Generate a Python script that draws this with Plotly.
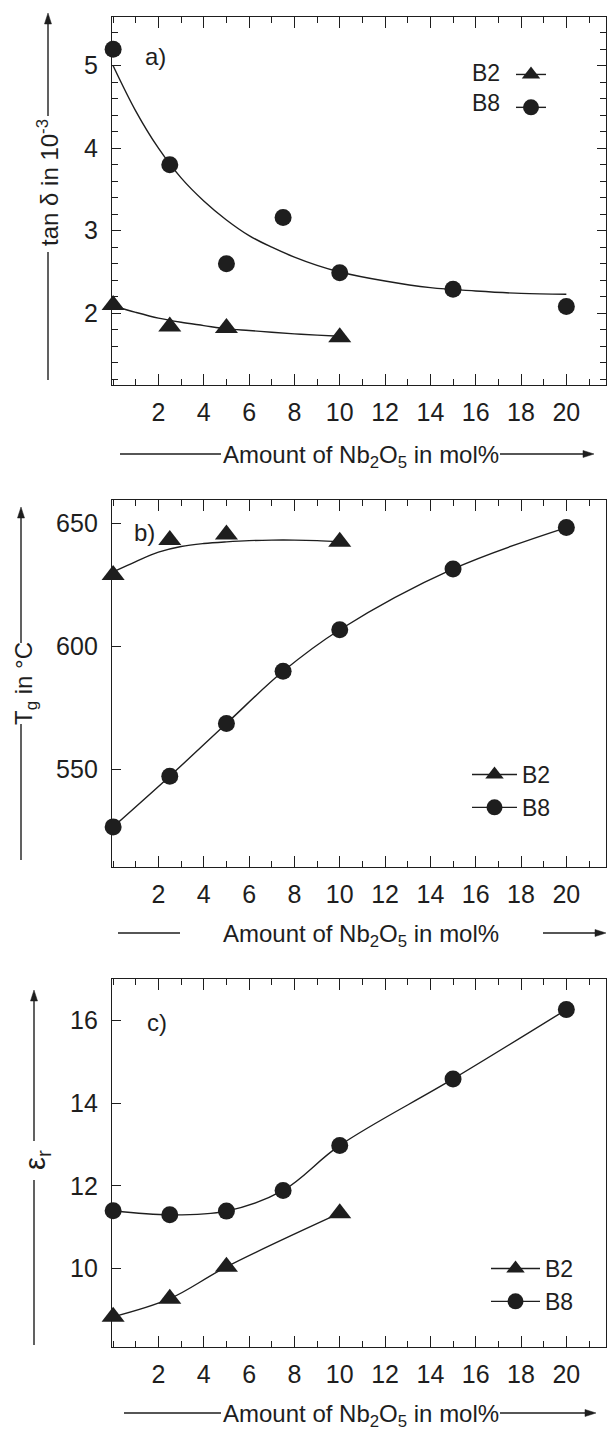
import plotly.graph_objects as go

W, H = 608, 1430
INK = '#1e1e1e'
FONT = 'Liberation Sans, Arial, sans-serif'

# ---------------- data ----------------
x_b2 = [0, 2.5, 5, 10]
x_b8 = [0, 2.5, 5, 7.5, 10, 15, 20]

# a) tan delta in 1e-3
tan_b2 = [2.10, 1.84, 1.82, 1.71]
tan_b8 = [5.20, 3.80, 2.60, 3.16, 2.49, 2.29, 2.08]
tan_fit_x_b2 = [0, 1, 2, 3, 4, 5, 6, 7, 8, 9, 10]
tan_fit_b2 = [2.09, 2.01, 1.94, 1.89, 1.85, 1.81, 1.79, 1.77, 1.75, 1.735, 1.72]
tan_fit_x_b8 = [0, 1, 2, 3, 4, 5, 6, 7, 8, 9, 10, 12, 14, 16, 18, 20]
tan_fit_b8 = [5.00, 4.45, 4.00, 3.64, 3.36, 3.13, 2.94, 2.80, 2.68, 2.58, 2.50,
              2.39, 2.31, 2.27, 2.24, 2.23]

# b) Tg in degC
tg_b2 = [629.0, 643.2, 645.5, 642.5]
tg_b8 = [526.7, 547.3, 568.7, 589.9, 606.8, 631.5, 648.3]
tg_fit_x_b2 = [0, 1, 2, 3, 4, 5, 6, 7, 8, 9, 10]
tg_fit_b2 = [630.3, 634.5, 638.3, 640.6, 641.8, 642.5, 643.0, 643.2, 643.2, 643.0, 642.6]

# c) epsilon_r
er_b2 = [8.83, 9.27, 10.04, 11.34]
er_b8 = [11.40, 11.30, 11.39, 11.89, 12.98, 14.59, 16.27]

x_tickvals = [2, 4, 6, 8, 10, 12, 14, 16, 18, 20]
tan_ticks = [2, 3, 4, 5]
tg_ticks = [550, 600, 650]
er_ticks = [10, 12, 14, 16]
series_names = ['B2', 'B8']

# ---------------- layout helpers (pixel -> paper) ----------------
def px(p):
    return p / W


def py(p):
    return 1 - p / H


X_DOM = [px(112), px(606)]
X_RANGE = [-0.05, 21.75]
DOM_A = [py(385), py(17)]
DOM_B = [py(867), py(500)]
DOM_C = [py(1347), py(979)]

LW = 1.4
MS_C = 17
MS_T = 20

fig = go.Figure()


def msize(sym):
    return MS_T if sym == 'triangle-up' else MS_C


def line_tr(x, y, xa, ya):
    return go.Scatter(x=x, y=y, mode='lines', xaxis=xa, yaxis=ya, showlegend=False,
                      line=dict(color=INK, width=LW, shape='spline', smoothing=1.0),
                      hoverinfo='skip', cliponaxis=False)


def mark_tr(x, y, xa, ya, sym, name):
    return go.Scatter(x=x, y=y, mode='markers', xaxis=xa, yaxis=ya, showlegend=False, name=name,
                      marker=dict(symbol=sym, size=msize(sym), color=INK, line=dict(width=0)),
                      cliponaxis=False)


def proxy_tr(name, sym, legend, xa, ya):
    return go.Scatter(x=[None], y=[None], mode='lines+markers', xaxis=xa, yaxis=ya,
                      name=name, legend=legend, showlegend=True,
                      line=dict(color=INK, width=LW),
                      marker=dict(symbol=sym, size=msize(sym), color=INK))


# panel a
fig.add_trace(line_tr(tan_fit_x_b2, tan_fit_b2, 'x', 'y'))
fig.add_trace(line_tr(tan_fit_x_b8, tan_fit_b8, 'x', 'y'))
fig.add_trace(mark_tr(x_b2, tan_b2, 'x', 'y', 'triangle-up', 'B2'))
fig.add_trace(mark_tr(x_b8, tan_b8, 'x', 'y', 'circle', 'B8'))
fig.add_trace(proxy_tr('', 'triangle-up', 'legend', 'x', 'y'))
fig.add_trace(proxy_tr(' ', 'circle', 'legend', 'x', 'y'))

# panel b
fig.add_trace(line_tr(tg_fit_x_b2, tg_fit_b2, 'x2', 'y2'))
fig.add_trace(mark_tr(x_b2, tg_b2, 'x2', 'y2', 'triangle-up', 'B2'))
fig.add_trace(proxy_tr(series_names[0], 'triangle-up', 'legend2', 'x2', 'y2'))
fig.add_trace(go.Scatter(x=x_b8, y=tg_b8, mode='lines+markers', xaxis='x2', yaxis='y2',
                         name=series_names[1], legend='legend2', showlegend=True,
                         line=dict(color=INK, width=LW, shape='spline', smoothing=1.0),
                         marker=dict(symbol='circle', size=MS_C, color=INK), cliponaxis=False))

# panel c
fig.add_trace(go.Scatter(x=x_b2, y=er_b2, mode='lines+markers', xaxis='x3', yaxis='y3',
                         name=series_names[0], legend='legend3', showlegend=True,
                         line=dict(color=INK, width=LW, shape='spline', smoothing=1.0),
                         marker=dict(symbol='triangle-up', size=MS_T, color=INK), cliponaxis=False))
fig.add_trace(go.Scatter(x=x_b8, y=er_b8, mode='lines+markers', xaxis='x3', yaxis='y3',
                         name=series_names[1], legend='legend3', showlegend=True,
                         line=dict(color=INK, width=LW, shape='spline', smoothing=1.0),
                         marker=dict(symbol='circle', size=MS_C, color=INK), cliponaxis=False))

TICKFONT = dict(family=FONT, size=25, color=INK)


def xaxis_cfg(anchor):
    return dict(domain=X_DOM, range=X_RANGE, anchor=anchor, showgrid=False, zeroline=False,
                showline=True, linecolor=INK, linewidth=LW, mirror='ticks',
                tickmode='array', tickvals=x_tickvals,
                ticks='inside', ticklen=11, tickwidth=LW, tickcolor=INK,
                minor=dict(dtick=1, tick0=0, ticks='inside', ticklen=6, tickwidth=LW,
                           tickcolor=INK, showgrid=False),
                tickfont=TICKFONT, ticklabelstandoff=5, fixedrange=True)


def yaxis_left(anchor, dom, rng, tickvals, minor_dtick=None, mirror='ticks'):
    cfg = dict(domain=dom, range=rng, anchor=anchor, showgrid=False, zeroline=False,
               showline=True, linecolor=INK, linewidth=LW, mirror=mirror,
               tickmode='array', tickvals=tickvals, ticks='inside', ticklen=9,
               tickwidth=LW, tickcolor=INK, tickfont=TICKFONT, ticklabelstandoff=8,
               fixedrange=True)
    if minor_dtick:
        cfg['minor'] = dict(dtick=minor_dtick, tick0=0, ticks='inside', ticklen=6,
                            tickwidth=LW, tickcolor=INK, showgrid=False)
    return cfg


def yaxis_right(anchor, over, rng, dtick):
    return dict(overlaying=over, anchor=anchor, side='right', range=rng, showgrid=False,
                zeroline=False, showline=False, showticklabels=False, tickmode='linear',
                tick0=0, dtick=dtick, ticks='inside', ticklen=7, tickwidth=LW, tickcolor=INK,
                fixedrange=True)


RANGE_A = [1.13, 5.59]
RANGE_B = [510.4, 659.5]
RANGE_C = [8.10, 17.01]

LEG = dict(font=dict(family=FONT, size=23, color=INK), bgcolor='rgba(0,0,0,0)',
           borderwidth=0, xanchor='left', yanchor='top', tracegroupgap=0)

fig.update_layout(
    width=W, height=H, margin=dict(l=0, r=0, t=0, b=0),
    paper_bgcolor='white', plot_bgcolor='white',
    font=dict(family=FONT, color=INK, size=24),
    xaxis=xaxis_cfg('y'),
    xaxis2=xaxis_cfg('y2'),
    xaxis3=xaxis_cfg('y3'),
    yaxis=yaxis_left('x', DOM_A, RANGE_A, tan_ticks, minor_dtick=0.2),
    yaxis2=yaxis_left('x2', DOM_B, RANGE_B, tg_ticks, mirror=True),
    yaxis3=yaxis_left('x3', DOM_C, RANGE_C, er_ticks, mirror=True),
    yaxis4=yaxis_right('x2', 'y2', RANGE_B, 10),
    yaxis5=yaxis_right('x3', 'y3', RANGE_C, 1),
    legend=dict(LEG, x=px(511), y=py(53), itemwidth=30),
    legend2=dict(LEG, x=px(467), y=py(753), itemwidth=45),
    legend3=dict(LEG, x=px(486), y=py(1247), itemwidth=49),
    showlegend=True,
)

ann = []
shapes = []


def text(x, y, s, size=24, xanchor='center', angle=0):
    ann.append(dict(x=px(x), y=py(y), xref='paper', yref='paper', text=s, showarrow=False,
                    xanchor=xanchor, yanchor='middle', textangle=angle,
                    font=dict(family=FONT, size=size, color=INK)))


def seg(x0, y0, x1, y1):
    shapes.append(dict(type='line', xref='paper', yref='paper', x0=px(x0), y0=py(y0),
                       x1=px(x1), y1=py(y1), line=dict(color=INK, width=LW)))


def tri(pts):
    d = 'M ' + ' L '.join('%.5f,%.5f' % (px(a), py(b)) for a, b in pts) + ' Z'
    shapes.append(dict(type='path', xref='paper', yref='paper', path=d,
                       fillcolor=INK, line=dict(color=INK, width=0.5)))


def arrow_right(x_tail, x_tip, y):
    seg(x_tail, y, x_tip - 8, y)
    tri([(x_tip, y), (x_tip - 11, y - 3.5), (x_tip - 11, y + 3.5)])


def arrow_up(x, y_tail, y_tip):
    seg(x, y_tail, x, y_tip + 8)
    tri([(x, y_tip), (x - 3.5, y_tip + 11), (x + 3.5, y_tip + 11)])


# panel labels
text(143, 57, 'a)', xanchor='left')
text(132, 532, 'b)', xanchor='left')
text(145, 1022, 'c)', xanchor='left')

# legend text for panel a (text left of symbol)
text(502, 73, series_names[0], size=23, xanchor='right')
text(502, 103, series_names[1], size=23, xanchor='right')

XT = 'Amount of Nb<sub>2</sub>O<sub>5</sub> in mol%'
# x titles
text(361, 456, XT)
seg(120, 454, 221, 454)
arrow_right(500, 594, 454)

text(361, 935, XT)
seg(118, 933, 180, 933)
arrow_right(543, 606, 933)

text(361, 1415, XT)
seg(124, 1413, 221, 1413)
arrow_right(500, 596, 1413)

# y titles
text(48, 183, 'tan δ in 10<sup>-3</sup>', angle=-90)
arrow_up(48, 116, 13)
seg(48, 252, 48, 380)

text(25, 684, 'T<sub>g</sub> in °C', angle=-90)
arrow_up(21, 643, 507)
seg(21, 724, 21, 860)

text(37, 1160, 'ε<sub>r</sub>', size=29, angle=-90)
arrow_up(34, 1141, 990)
seg(34, 1180, 34, 1345)

fig.update_layout(annotations=ann, shapes=shapes)

fig.write_html('out.html')
